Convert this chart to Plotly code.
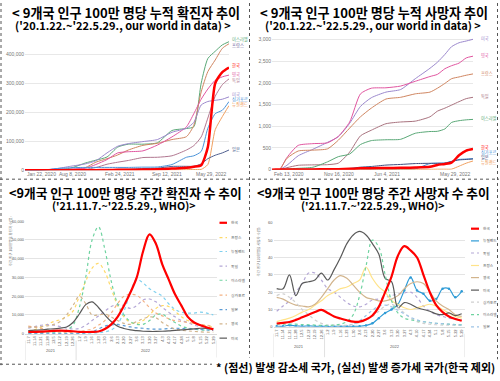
import plotly.graph_objects as go

W, H = 500, 381

# ---------------- DATA ----------------
# Panel 1 & 2: cumulative per million (our world in data)
cum_dates = ["2020-01-22", "2020-02-13", "2020-03-15", "2020-04-15", "2020-06-01", "2020-08-01",
             "2020-10-01", "2020-11-15", "2021-01-01", "2021-02-15", "2021-04-01", "2021-06-01",
             "2021-08-01", "2021-10-01", "2021-12-01", "2022-01-01", "2022-02-01", "2022-03-01",
             "2022-04-01", "2022-05-01", "2022-05-29"]

# cumulative cases per million (thousands)
cases_israel = [0, 0, 0.03, 1.4, 2.0, 7.5, 25, 35, 46, 80, 90, 90, 95, 137, 144, 150, 300, 385, 410, 432, 443]
cases_france = [0, 0, 0.08, 2.3, 2.8, 3.3, 9, 28, 40, 53, 70, 86, 93, 106, 116, 155, 270, 340, 380, 420, 436]
cases_korea = [0, 0, 0.16, 0.2, 0.22, 0.28, 0.46, 0.56, 1.2, 1.65, 2, 2.7, 3.9, 6.1, 8.6, 12.3, 17.5, 80, 300, 338, 354]
cases_uk = [0, 0, 0.02, 1.4, 4, 4.5, 7, 20, 37, 60, 64, 67, 87, 115, 150, 195, 245, 280, 310, 322, 328]
cases_germany = [0, 0, 0.07, 1.6, 2.2, 2.5, 3.5, 9.5, 21, 28, 34, 44, 45, 50, 70, 85, 115, 180, 255, 295, 315]
cases_usa = [0, 0, 0.01, 1.9, 5.5, 14, 22, 33, 60, 83, 92, 99, 106, 131, 145, 165, 225, 237, 241, 245, 253]
cases_singapore = [0, 0, 0.04, 0.6, 6, 9, 10, 10, 10, 10, 10, 11, 11.5, 20, 45, 50, 65, 145, 195, 207, 237]
cases_nz = [0, 0, 0, 0.2, 0.3, 0.3, 0.4, 0.4, 0.45, 0.45, 0.5, 0.55, 0.6, 0.9, 2.2, 2.8, 3.3, 20, 140, 185, 223]
cases_japan = [0, 0, 0.01, 0.07, 0.14, 0.28, 0.66, 0.9, 1.9, 3.3, 3.8, 6, 7.4, 13.5, 13.8, 13.9, 22, 40, 52, 60, 70]

# cumulative deaths per million
deaths_usa = [0, 0, 0.2, 100, 320, 470, 630, 760, 1070, 1460, 1660, 1790, 1850, 2100, 2340, 2480, 2660, 2840, 2930, 2970, 3010]
deaths_uk = [0, 0, 0.3, 280, 560, 600, 620, 770, 1100, 1750, 1880, 1890, 1930, 2040, 2150, 2200, 2330, 2400, 2460, 2580, 2620]
deaths_france = [0, 0, 1.4, 260, 430, 450, 480, 680, 960, 1220, 1420, 1630, 1670, 1750, 1790, 1880, 1990, 2100, 2140, 2180, 2210]
deaths_germany = [0, 0, 0.1, 45, 100, 110, 115, 150, 405, 780, 910, 1060, 1100, 1120, 1220, 1350, 1420, 1490, 1570, 1640, 1670]
deaths_israel = [0, 0, 0, 15, 30, 55, 180, 300, 360, 580, 670, 690, 700, 840, 880, 885, 940, 1090, 1130, 1150, 1160]
deaths_korea = [0, 0, 1.4, 4.3, 5.3, 5.8, 8, 9.4, 17.9, 30, 33, 37, 41, 48, 66, 109, 131, 162, 330, 440, 475]
deaths_singapore = [0, 0, 0, 2, 4, 5, 5, 5, 5, 5, 5, 6, 7, 20, 140, 150, 155, 190, 235, 245, 255]
deaths_japan = [0, 0, 0.2, 1.2, 7, 8, 12, 15, 27, 57, 72, 105, 120, 140, 146, 146, 148, 190, 224, 235, 245]
deaths_nz = [0, 0, 0, 2, 4.4, 4.4, 5, 5, 5, 5, 5, 5, 5, 5.5, 8, 10, 10, 12, 80, 150, 200]

# Panel 3 & 4: weekly per million (WHO), 2021.11.7 ~ 2022.5.29
week_labels = ["11.7", "11.14", "11.21", "11.28", "12.5", "12.12", "12.19", "12.26",
               "1.2", "1.9", "1.16", "1.23", "1.30", "2.6", "2.13", "2.20", "2.27",
               "3.6", "3.13", "3.20", "3.27", "4.3", "4.10", "4.17", "4.24",
               "5.1", "5.8", "5.15", "5.22", "5.29"]
year_labels = ["2021", "2022"]

# weekly cases per million (thousands)
wc_korea = [0.9, 1.0, 1.1, 1.3, 1.5, 1.6, 1.5, 1.3, 1.0, 0.9, 1.0, 1.2, 2.5, 5, 9, 15, 22, 30, 44, 53, 48, 37, 29, 21, 15, 9, 6, 4.5, 3.3, 2.3]
wc_france = [1.5, 2.2, 3.5, 5, 6.5, 7.5, 9, 12, 20, 28, 35, 37.5, 33, 24, 15, 9, 6, 5.5, 7, 10, 13.5, 15, 14.5, 12, 9, 7, 5.5, 4.5, 4, 3.5]
wc_nz = [0.3, 0.3, 0.3, 0.3, 0.3, 0.2, 0.2, 0.2, 0.2, 0.2, 0.3, 0.5, 1, 2, 5, 12, 22, 29, 27, 24, 22, 20, 16, 13, 11.5, 11, 11, 11.5, 11, 10]
wc_germany = [3, 3.8, 4.5, 4.8, 4.5, 3.8, 3, 2.5, 2.8, 4.5, 7, 9.5, 12, 14.5, 15.5, 15, 13.5, 15, 18, 18.5, 17, 14, 11.5, 9, 7, 6, 4.5, 3.8, 3.3, 3]
wc_israel = [0.5, 0.5, 0.6, 0.8, 0.8, 1, 2, 4.5, 14, 30, 50, 57, 45, 28, 16, 10, 6.5, 5, 5, 7, 10, 10.5, 8, 6, 4, 3, 2.5, 2, 2, 2.3]
wc_singapore = [4, 3.5, 2.8, 2, 1.2, 0.8, 0.6, 0.8, 1.2, 1.8, 2.5, 4.5, 7, 11, 16, 20, 21, 20.5, 17.5, 14, 11, 9.5, 8, 7, 6.5, 6, 5.5, 5, 4.5, 4]
wc_japan = [0.05, 0.05, 0.05, 0.05, 0.05, 0.05, 0.05, 0.05, 0.1, 0.3, 1, 2.5, 4, 4.7, 4.8, 4.3, 3.6, 3.1, 2.9, 2.6, 2.4, 2.5, 2.7, 2.9, 2.8, 2.5, 2.6, 2.3, 2, 1.7]
wc_uk = [3.5, 3.5, 3.8, 4.2, 5, 6.5, 10, 15, 20, 16, 10, 10, 10.5, 9, 7, 5.5, 5, 6.5, 8, 9, 8.5, 6, 4, 2.5, 1.8, 1.5, 1.2, 1, 0.8, 0.8]
wc_usa = [1.6, 1.9, 2, 2.4, 2.6, 3, 3.6, 6, 10.5, 15.5, 17, 14, 10, 6.5, 4, 2.8, 2, 1.6, 1.3, 1.2, 1.2, 1.3, 1.5, 1.8, 2, 2.3, 2.6, 2.9, 2.8, 2.5]

# weekly deaths per million
wd_korea = [1.9, 2.3, 2.8, 4, 5.5, 7, 8.5, 9.8, 8, 6, 4.8, 3.8, 3, 3, 4.2, 6.5, 11.5, 20, 29, 41, 46.5, 44, 40, 30, 20, 12.5, 8.5, 6, 4.5, 3.5]
wd_nz = [0.3, 0.3, 1, 0.5, 0.3, 0.5, 0.3, 0.3, 0.2, 0.2, 0.2, 0.2, 0.2, 0.3, 0.8, 2, 5, 8, 10, 13, 21, 28.5, 21, 19, 15, 16, 22, 22, 17, 20.5]
wd_germany = [9, 12, 15, 20, 25, 31, 31, 27, 22, 20, 17, 14, 12, 11.5, 13, 15.5, 16, 17, 18, 19, 19.5, 20, 17, 12, 9, 7, 6, 5, 4.5, 4]
wd_france = [3, 4, 5, 6.5, 8.5, 10, 12.5, 15, 18, 20, 22, 23, 25, 27, 34.5, 28, 23, 20, 15, 13, 11, 10, 11, 12, 13, 12, 10, 8, 6, 5]
wd_uk = [17, 16, 14, 12.5, 12, 11.5, 13, 17, 22, 27, 29.5, 28, 24, 20, 17, 16, 15, 15, 16, 18, 22, 25, 26, 25, 20, 15, 12, 10, 7, 6]
wd_usa = [22, 22, 30, 18, 25, 26, 27, 31, 27, 33, 40, 48, 53, 55, 53, 48, 42, 28, 26, 11, 14, 13, 11, 10, 9, 7.5, 7, 8, 6.5, 7.5]
wd_singapore = [18, 19, 17, 14, 10, 7, 4, 2, 1, 1, 0.8, 1, 1.5, 2.5, 4, 6, 9, 12, 13, 11, 8, 5, 3, 2, 1.5, 1.2, 1, 1, 1, 1]
wd_israel = [1.5, 1.5, 1.5, 1.5, 1.3, 1.2, 1, 0.8, 0.8, 1, 1.5, 3, 7, 18, 35, 50, 46, 30, 15, 8, 5, 4, 3.5, 3, 2.5, 2, 1.8, 1.5, 1.3, 1.2]
wd_japan = [0.05, 0.05, 0.05, 0.05, 0.05, 0.05, 0.05, 0.05, 0.05, 0.1, 0.2, 0.6, 1.5, 3.5, 6.5, 9.5, 12, 12.5, 11.5, 9.5, 7.5, 5.5, 4, 3, 2.5, 2, 1.8, 1.5, 1.2, 1]

# ---------------- HELPERS ----------------
def X(p):
    return p / W


def Y(p):
    return 1 - p / H


FONT = "Noto Sans CJK KR"
fig = go.Figure()

# ---------- Panel 1: cumulative cases ----------
p1 = [
    ("이스라엘", cases_israel, "#5aa877", 1, 451000),
    ("프랑스", cases_france, "#cf8560", 1, 433000),
    ("영국", cases_uk, "#e0559f", 1, 330000),
    ("독일", cases_germany, "#b0768f", 1, 311000),
    ("미국", cases_usa, "#9b88cc", 1, 260000),
    ("싱가포르", cases_singapore, "#4b93d8", 1, 243000),
    ("뉴질랜드", cases_nz, "#f0a060", 1, 226000),
    ("일본", cases_japan, "#4f5f8f", 1, 73000),
    ("한국", cases_korea, "#ff0000", 2.5, 362000),
]
p1_label_color = {"프랑스": "#6b5e9a"}
for name, vals, col, wd, ly in p1:
    fig.add_trace(go.Scatter(x=cum_dates, y=[v * 1000 for v in vals], mode="lines",
                             line=dict(color=col, width=wd, shape="spline", smoothing=0.6),
                             xaxis="x", yaxis="y", hoverinfo="skip", showlegend=False))

# ---------- Panel 2: cumulative deaths ----------
p2 = [
    ("미국", deaths_usa, "#9b88cc", 1, 3030),
    ("영국", deaths_uk, "#e0559f", 1, 2636),
    ("프랑스", deaths_france, "#cf8560", 1, 2220),
    ("독일", deaths_germany, "#a8727e", 1, 1683),
    ("이스라엘", deaths_israel, "#5aa877", 1, 1176),
    ("싱가포르", deaths_singapore, "#4b93d8", 1, 400),
    ("일본", deaths_japan, "#3f4f7f", 1, 286),
    ("뉴질랜드", deaths_nz, "#f0a060", 1, 159),
    ("한국", deaths_korea, "#ff0000", 2.5, 514),
]
for name, vals, col, wd, ly in p2:
    fig.add_trace(go.Scatter(x=cum_dates, y=vals, mode="lines",
                             line=dict(color=col, width=wd, shape="spline", smoothing=0.6),
                             xaxis="x2", yaxis="y2", hoverinfo="skip", showlegend=False))

# ---------- Panel 3: weekly cases ----------
weeks = list(range(len(week_labels)))
p3 = [
    ("한국", wc_korea, "#ff0000", 2.2, "solid"),
    ("프랑스", wc_france, "#ffd966", 1.2, "dot"),
    ("뉴질랜드", wc_nz, "#7fd0ee", 1.2, "dot"),
    ("독일", wc_germany, "#b4a7d6", 1.2, "dot"),
    ("이스라엘", wc_israel, "#6fd3a0", 1.2, "dot"),
    ("싱가포르", wc_singapore, "#f4b183", 1.2, "dot"),
    ("일본", wc_japan, "#5b9bd5", 1.2, "dot"),
    ("영국", wc_uk, "#d2b48c", 1.2, "dot"),
    ("미국", wc_usa, "#595959", 1.2, "solid"),
]
for name, vals, col, wd, dash in p3[1:] + p3[:1]:
    fig.add_trace(go.Scatter(x=weeks, y=[v * 1000 for v in vals], mode="lines",
                             line=dict(color=col, width=wd, dash=dash, shape="spline", smoothing=1),
                             xaxis="x3", yaxis="y3", hoverinfo="skip", showlegend=False))

# ---------- Panel 4: weekly deaths ----------
p4 = [
    ("한국", wd_korea, "#ff0000", 2.2, "solid"),
    ("뉴질랜드", wd_nz, "#2e9bd6", 1.2, "solid"),
    ("독일", wd_germany, "#b4a7d6", 1.2, "dot"),
    ("프랑스", wd_france, "#ffe38a", 1.2, "solid"),
    ("영국", wd_uk, "#d2b48c", 1.2, "solid"),
    ("미국", wd_usa, "#595959", 1.2, "solid"),
    ("싱가포르", wd_singapore, "#d0d0d0", 1.2, "dot"),
    ("이스라엘", wd_israel, "#6fd3a0", 1.2, "dot"),
    ("일본", wd_japan, "#9dc3e6", 1.2, "dot"),
]
for name, vals, col, wd, dash in p4[1:] + p4[:1]:
    mode = "lines+markers" if name == "뉴질랜드" else "lines"
    fig.add_trace(go.Scatter(x=weeks, y=vals, mode=mode, marker=dict(size=2.5, color=col),
                             line=dict(color=col, width=wd, dash=dash, shape="spline", smoothing=1),
                             xaxis="x4", yaxis="y4", hoverinfo="skip", showlegend=False))

# ---------------- AXES ----------------
grid_owid = "#e8e8e8"
tick_owid = dict(size=5, color="#777777", family="Arial")
fig.update_layout(
    xaxis=dict(domain=[X(25), X(229)], range=[cum_dates[0], cum_dates[-1]], type="date",
               showticklabels=False, showgrid=False, zeroline=False, showline=False, anchor="y"),
    yaxis=dict(domain=[Y(170), Y(170 - 29.5 * 4.6)], range=[0, 460000], anchor="x",
               tickvals=[0, 100000, 200000, 300000, 400000],
               ticktext=["0", "100,000", "200,000", "300,000", "400,000"],
               tickfont=tick_owid, gridcolor=grid_owid, gridwidth=1, zeroline=False, ticks=""),
    xaxis2=dict(domain=[X(272), X(473)], range=["2020-02-13", cum_dates[-1]], type="date",
                showticklabels=False, showgrid=False, zeroline=False, showline=False, anchor="y2"),
    yaxis2=dict(domain=[Y(169.3), Y(169.3 - 0.044 * 3100)], range=[0, 3100], anchor="x2",
                tickvals=[0, 500, 1000, 1500, 2000, 2500, 3000],
                ticktext=["0", "500", "1,000", "1,500", "2,000", "2,500", "3,000"],
                tickfont=tick_owid, gridcolor=grid_owid, gridwidth=1, zeroline=False, ticks=""),
    xaxis3=dict(domain=[X(25.1), X(216.5)], range=[-0.5, 29.5], anchor="y3",
                tickvals=weeks, ticktext=week_labels, tickangle=-90,
                tickfont=dict(size=4, color="#595959", family="Arial"),
                showgrid=False, zeroline=False, showline=True, linecolor="#d9d9d9", linewidth=1, ticks=""),
    yaxis3=dict(domain=[Y(336), Y(221.7)], range=[0, 60000], anchor="x3",
                tickvals=[0, 10000, 20000, 30000, 40000, 50000, 60000],
                ticktext=["0", "10,000", "20,000", "30,000", "40,000", "50,000", "60,000"],
                tickfont=dict(size=4, color="#595959", family="Arial"),
                gridcolor="#e4e4e4", gridwidth=1, zeroline=False, ticks=""),
    xaxis4=dict(domain=[X(273.5), X(464.9)], range=[-0.5, 29.5], anchor="y4",
                tickvals=weeks, ticktext=week_labels, tickangle=-90,
                tickfont=dict(size=4, color="#595959", family="Arial"),
                showgrid=False, zeroline=False, showline=True, linecolor="#d9d9d9", linewidth=1, ticks=""),
    yaxis4=dict(domain=[Y(329), Y(223.3)], range=[0, 60], anchor="x4",
                tickvals=[0, 10, 20, 30, 40, 50, 60],
                tickfont=dict(size=4, color="#595959", family="Arial"),
                gridcolor="#e4e4e4", gridwidth=1, zeroline=False, ticks=""),
)

ann = []
shapes = []

# x tick labels for OWID panels
p1_ticks = [("2020-01-22", "Jan 22, 2020", "left"), ("2020-08-08", "Aug 8, 2020", "center"),
            ("2021-02-24", "Feb 24, 2021", "center"), ("2021-09-12", "Sep 12, 2021", "center"),
            ("2022-05-29", "May 29, 2022", "right")]
for d, t, a in p1_ticks:
    ann.append(dict(x=d, y=Y(174), xref="x", yref="paper", text=t, showarrow=False,
                    xanchor=a, yanchor="middle", font=tick_owid))
p2_ticks = [("2020-02-13", "Feb 13, 2020", "left"), ("2020-11-16", "Nov 16, 2020", "center"),
            ("2021-06-04", "Jun 4, 2021", "center"), ("2022-05-29", "May 29, 2022", "right")]
for d, t, a in p2_ticks:
    ann.append(dict(x=d, y=Y(173.5), xref="x2", yref="paper", text=t, showarrow=False,
                    xanchor=a, yanchor="middle", font=tick_owid))

# end labels for OWID panels
for name, vals, col, wd, ly in p1:
    ann.append(dict(x=X(230.3), y=ly, xref="paper", yref="y", text=name, showarrow=False,
                    xanchor="left", yanchor="middle",
                    font=dict(size=4.3, color=p1_label_color.get(name, col), family=FONT)))
for name, vals, col, wd, ly in p2:
    ann.append(dict(x=X(479), y=ly, xref="paper", yref="y2", text=name, showarrow=False,
                    xanchor="left", yanchor="middle", font=dict(size=4.2, color=col, family=FONT)))

# manual legends for Excel panels
p3_leg_y = [223.3, 238.3, 252.5, 267.3, 281.7, 296.7, 311.5, 326, 340.5]
for (name, vals, col, wd, dash), yy in zip(p3, p3_leg_y):
    shapes.append(dict(type="line", xref="paper", yref="paper", x0=X(219.5), x1=X(227),
                       y0=Y(yy), y1=Y(yy), line=dict(color=col, width=wd, dash=dash)))
    ann.append(dict(x=X(228.5), y=Y(yy), xref="paper", yref="paper", text=name, showarrow=False,
                    xanchor="left", yanchor="middle", font=dict(size=3.8, color="#595959", family=FONT)))
p4_leg_y = [229.3, 241.7, 254, 266.7, 279, 291.7, 304, 316.7, 329]
for (name, vals, col, wd, dash), yy in zip(p4, p4_leg_y):
    shapes.append(dict(type="line", xref="paper", yref="paper", x0=X(471), x1=X(479),
                       y0=Y(yy), y1=Y(yy), line=dict(color=col, width=wd, dash=dash)))
    ann.append(dict(x=X(480.5), y=Y(yy), xref="paper", yref="paper", text=name, showarrow=False,
                    xanchor="left", yanchor="middle", font=dict(size=3.7, color="#595959", family=FONT)))

# year group labels + separators
for xa, ylab, ytop, ybot in [("x3", 358, 343, 363), ("x4", 354, 336, 360)]:
    ann.append(dict(x=3.5, y=Y(ylab), xref=xa, yref="paper", text=year_labels[0], showarrow=False,
                    font=dict(size=4, color="#595959", family="Arial")))
    ann.append(dict(x=18.5, y=Y(ylab), xref=xa, yref="paper", text=year_labels[1], showarrow=False,
                    font=dict(size=4, color="#595959", family="Arial")))
    for sx in [-0.5, 7.5, 29.5]:
        shapes.append(dict(type="line", xref=xa, yref="paper", x0=sx, x1=sx, y0=Y(ytop), y1=Y(ybot),
                           line=dict(color="#d9d9d9", width=0.8)))

# y-axis titles (Excel panels)
ann.append(dict(x=X(6), y=Y(270), xref="paper", yref="paper", text="주간 인구 100만명당 확진자 수(명)",
                textangle=-90, showarrow=False, font=dict(size=3.5, color="#777777", family=FONT)))
ann.append(dict(x=X(259), y=Y(280), xref="paper", yref="paper", text="주간 인구 100만명당 사망자 수(명)",
                textangle=-90, showarrow=False, font=dict(size=3.5, color="#777777", family=FONT)))

# titles
titles = [
    (126, 10, "< 9개국 인구 100만 명당 누적 확진자 추이", 13.1),
    (123, 22.5, "('20.1.22.~'22.5.29., our world in data) >", 11),
    (374, 10, "< 9개국 인구 100만 명당 누적 사망자 추이", 13.1),
    (373, 22.5, "('20.1.22.~'22.5.29., our world in data) >", 11),
    (125, 193, "<9개국 인구 100만 명당 주간 확진자 수 추이", 12.7),
    (124, 206, "('21.11.7.~'22.5.29., WHO)>", 10.7),
    (373, 193, "<9개국 인구 100만 명당 주간 사망자 수 추이", 12.7),
    (373, 206, "('21.11.7.~'22.5.29., WHO)>", 10.7),
]
for cx, cy, t, fs in titles:
    ann.append(dict(x=X(cx), y=Y(cy), xref="paper", yref="paper", text="<b>" + t + "</b>",
                    showarrow=False, xanchor="center", yanchor="middle",
                    font=dict(size=fs, color="#000000", family=FONT)))

# footnote
ann.append(dict(x=X(497), y=Y(370), xref="paper", yref="paper",
                text="<b>* (점선) 발생 감소세 국가, (실선) 발생 증가세 국가(한국 제외)</b>",
                showarrow=False, xanchor="right", yanchor="middle", bgcolor="#ffffff",
                font=dict(size=11, color="#000000", family=FONT)))

# dotted frame lines
dot = dict(color="#555555", width=1, dash="dot")
for x0, y0, x1, y1 in [(1, 0, 1, 368), (249.5, 0, 249.5, 368), (0, 179, 499, 179),
                       (497.5, 0, 497.5, 362), (0, 367, 212, 367)]:
    shapes.append(dict(type="line", xref="paper", yref="paper", x0=X(x0), x1=X(x1),
                       y0=Y(y0), y1=Y(y1), line=dot))

fig.update_layout(width=W, height=H, margin=dict(l=0, r=0, t=0, b=0),
                  paper_bgcolor="#ffffff", plot_bgcolor="#ffffff",
                  annotations=ann, shapes=shapes, showlegend=False,
                  font=dict(family=FONT))

fig.write_html("out.html", config={"displayModeBar": False, "staticPlot": True},
               post_script="document.body.style.margin='0px';document.body.style.padding='0px';"
                           "document.body.style.overflow='hidden';")
